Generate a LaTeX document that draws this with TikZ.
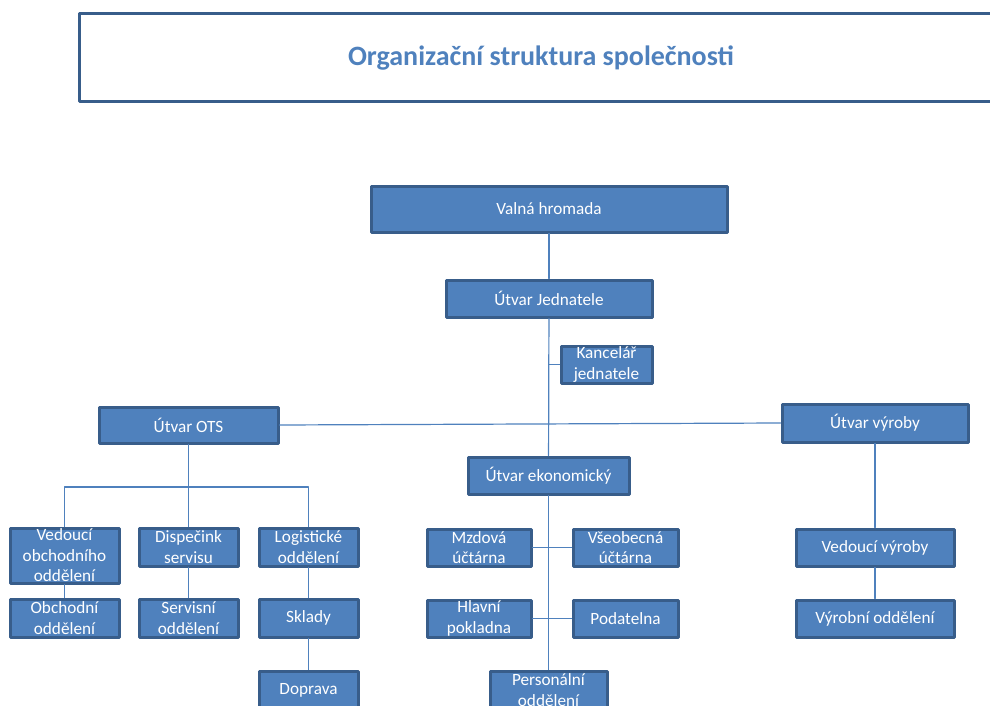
\documentclass[tikz,border=0pt]{standalone}
\usepackage{fontspec}
\setmainfont{Carlito}

\definecolor{boxfill}{RGB}{79,129,189}
\definecolor{boxline}{RGB}{56,93,138}
\definecolor{linkline}{RGB}{79,129,189}

\tikzset{
  unit/.style 2 args={draw=boxline, fill=boxfill, line width=3pt, text=white,
    align=center, inner sep=0pt, minimum width=#1, minimum height=#2,
    font=\fontsize{17.2}{20.5}\selectfont},
  link/.style={draw=linkline, line width=1.2pt},
  titlebox/.style={draw=boxline, line width=3pt, text=boxfill,
    font=\bfseries\fontsize{28}{32}\selectfont}
}

\begin{document}
\begin{tikzpicture}[x=1pt, y=-1pt, line cap=round, line join=round]

\clip (0,0) rectangle (990,706);

% -----------------------
% Title
% -----------------------
\node[titlebox, minimum width=924pt, minimum height=88pt] (title) at (541,58) {Organizační struktura společnosti};

% -----------------------
% Top management
% -----------------------
\node[unit={356pt}{46pt}] (valna) at (549,209) {Valná hromada};
\node[unit={206pt}{37pt}] (jedn)  at (549,298.5) {Útvar Jednatele};
\node[unit={91pt}{37pt}]  (kanc)  at (606.5,364.5) {Kancelář\\jednatele};

% -----------------------
% Divisions
% -----------------------
\node[unit={179pt}{36pt}] (ots)    at (188.5,425) {Útvar OTS};
\node[unit={161pt}{37pt}] (ekon)   at (548.5,475.5) {Útvar ekonomický};
\node[unit={186pt}{38pt}] (vyroby) at (875,423) {Útvar výroby};

% -----------------------
% OTS departments
% -----------------------
\node[unit={109pt}{55pt}] (vedobch) at (64.5,555.5) {Vedoucí\\obchodního\\oddělení};
\node[unit={99pt}{38pt}]  (disp)    at (188.5,547) {Dispečink\\servisu};
\node[unit={99pt}{38pt}]  (logi)    at (308.5,547) {Logistické\\oddělení};
\node[unit={109pt}{38pt}] (obch)    at (64.5,618) {Obchodní\\oddělení};
\node[unit={99pt}{38pt}]  (serv)    at (188.5,618) {Servisní\\oddělení};
\node[unit={99pt}{38pt}]  (sklady)  at (308.5,618) {Sklady};
\node[unit={99pt}{38pt}]  (doprava) at (308.5,690) {Doprava};

% -----------------------
% Economic departments
% -----------------------
\node[unit={104pt}{37pt}] (mzd)   at (479,547.5) {Mzdová\\účtárna};
\node[unit={105pt}{37pt}] (vseob) at (625.5,547.5) {Všeobecná\\účtárna};
\node[unit={104pt}{37pt}] (hlav)  at (479,618.5) {Hlavní\\pokladna};
\node[unit={105pt}{37pt}] (podat) at (625.5,618.5) {Podatelna};
\node[unit={117pt}{38pt}] (pers)  at (548.5,690) {Personální\\oddělení};

% -----------------------
% Production departments
% -----------------------
\node[unit={158pt}{37pt}] (vedvyr)  at (875,547.5) {Vedoucí výroby};
\node[unit={158pt}{37pt}] (vyrobni) at (875,618.5) {Výrobní oddělení};

% -----------------------
% Connectors
% -----------------------
\coordinate (otsbus) at (188.5,487);

\draw[link] (valna) -- (jedn);
\draw[link] (jedn) -- (ekon);
\draw[link] (jedn.south |- kanc.west) -- (kanc.west);
\draw[link] (ots.east) -- (vyroby.west);

\draw[link] (ots) -- (disp);
\draw[link] (vedobch.north) |- (otsbus) -| (logi.north);
\draw[link] (vedobch) -- (obch);
\draw[link] (disp) -- (serv);
\draw[link] (logi) -- (sklady);
\draw[link] (sklady) -- (doprava);

\draw[link] (ekon) -- (pers);
\draw[link] (mzd) -- (vseob);
\draw[link] (hlav) -- (podat);

\draw[link] (vyroby) -- (vedvyr);
\draw[link] (vedvyr) -- (vyrobni);

\end{tikzpicture}
\end{document}
